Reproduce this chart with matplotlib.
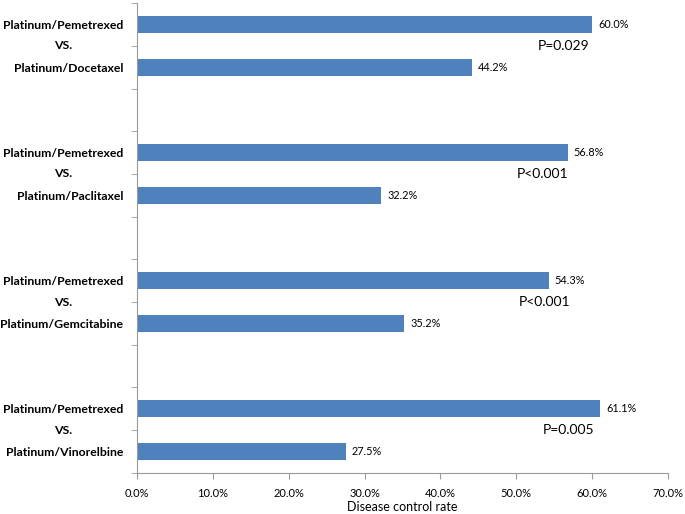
import numpy as np
import matplotlib.pyplot as plt
from matplotlib.transforms import blended_transform_factory

plt.rcParams['font.family'] = ['Lato', 'DejaVu Sans']

# data
labels = ['Platinum/Pemetrexed', 'Platinum/Docetaxel', '',
          'Platinum/Pemetrexed', 'Platinum/Paclitaxel', '',
          'Platinum/Pemetrexed', 'Platinum/Gemcitabine', '',
          'Platinum/Pemetrexed', 'Platinum/Vinorelbine']
rates = [60.0, 44.2, None, 56.8, 32.2, None, 54.3, 35.2, None, 61.1, 27.5]
p_values = ['P=0.029', 'P<0.001', 'P<0.001', 'P=0.005']
p_xpos = [56.2, 53.5, 53.7, 56.9]

fig = plt.figure(figsize=(6.85, 5.14), dpi=100)
ax = fig.add_axes([0.2, 0.08, 0.775, 0.914])

ypos = np.arange(len(labels))
for y, r in zip(ypos, rates):
    if r is None:
        continue
    ax.barh(y, r, height=0.4, color='#4F81BD')
    ax.text(r + 0.8, y, f'{r:.1f}%', va='center', ha='left', fontsize=7.8)

ax.set_ylim(len(labels) - 0.5, -0.5)
ax.set_xlim(0, 70)
ax.set_xticks(np.arange(0, 71, 10))
ax.set_xticklabels([f'{v:.1f}%' for v in np.arange(0, 71, 10)], fontsize=8)
ax.set_xlabel('Disease control rate', fontsize=9, labelpad=1)

ax.set_yticks(ypos)
ax.set_yticklabels(labels, fontsize=8.8, fontweight='bold')
ax.tick_params(axis='y', which='major', length=0, pad=10)
ax.set_yticks(np.arange(-0.5, len(labels), 1), minor=True)
ax.tick_params(axis='y', which='minor', length=4, color='#999999')
ax.tick_params(axis='x', length=4, color='#999999', pad=7)

for s in ['top', 'right']:
    ax.spines[s].set_visible(False)
for s in ['left', 'bottom']:
    ax.spines[s].set_color('#999999')

# VS. labels and p-values between each pair
trans = blended_transform_factory(fig.transFigure, ax.transData)
for i, (p, px) in enumerate(zip(p_values, p_xpos)):
    ymid = i * 3 + 0.5
    ax.text(63 / 685, ymid, 'VS.', transform=trans, ha='center', va='center',
            fontsize=8.8, fontweight='bold')
    ax.text(px, ymid, p, ha='center', va='center', fontsize=10)

fig.savefig('out.png', dpi=100)
